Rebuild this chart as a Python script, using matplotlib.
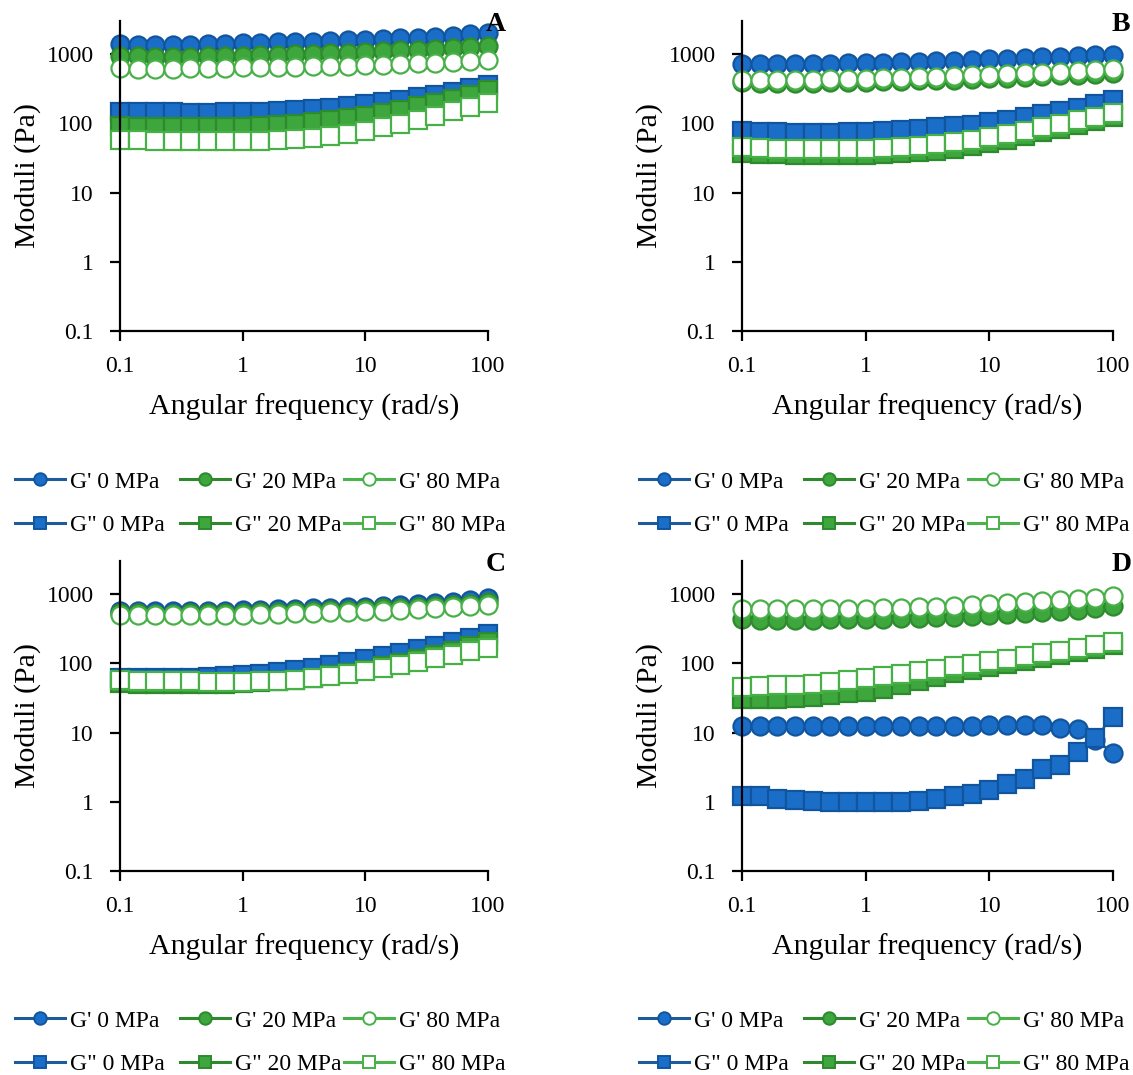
import numpy as np
import matplotlib.pyplot as plt
from matplotlib.lines import Line2D

plt.rcParams['font.family'] = ['Liberation Serif', 'DejaVu Serif']

# Angular frequency, 7 points per decade from 0.1 to 100 rad/s
freq = [0.1, 0.139, 0.193, 0.268, 0.373, 0.518, 0.72, 1.0, 1.39, 1.93, 2.68,
        3.73, 5.18, 7.2, 10.0, 13.9, 19.3, 26.8, 37.3, 51.8, 72.0, 100.0]

labels = ["G' 0 MPa", "G' 20 MPa", "G' 80 MPa",
          'G" 0 MPa', 'G" 20 MPa', 'G" 80 MPa']

# Panel A
a_g1_0 = [1380, 1370, 1360, 1360, 1370, 1380, 1400, 1420, 1440, 1470, 1490,
          1510, 1540, 1570, 1600, 1640, 1680, 1730, 1790, 1850, 1920, 1990]
a_g1_20 = [935, 925, 920, 920, 920, 925, 935, 945, 960, 975, 990,
           1005, 1025, 1045, 1070, 1095, 1125, 1160, 1195, 1235, 1270, 1310]
a_g1_80 = [620, 615, 615, 615, 620, 625, 630, 640, 645, 650, 660,
           665, 672, 680, 690, 700, 715, 730, 750, 770, 795, 820]
a_g2_0 = [147, 146, 145, 144, 143, 143, 144, 145, 147, 150, 154,
          160, 167, 176, 187, 200, 216, 236, 258, 285, 320, 360]
a_g2_20 = [90, 89, 88, 88, 87, 87, 88, 89, 91, 94, 98,
           103, 110, 118, 128, 140, 155, 175, 198, 225, 260, 300]
a_g2_80 = [58, 57, 56, 56, 55, 55, 55, 55, 56, 57, 59,
           62, 66, 71, 78, 87, 98, 112, 128, 148, 170, 195]

# Panel B
b_g1_0 = [720, 715, 712, 712, 715, 720, 730, 740, 750, 760, 775,
          790, 805, 820, 840, 860, 880, 900, 920, 940, 960, 980]
b_g1_20 = [390, 385, 385, 385, 388, 392, 396, 400, 405, 410, 415,
           420, 428, 435, 445, 455, 465, 475, 490, 505, 520, 535]
b_g1_80 = [420, 418, 418, 420, 425, 430, 435, 440, 448, 455, 462,
           470, 480, 490, 500, 512, 525, 540, 555, 570, 585, 600]
b_g2_0 = [77, 75, 74, 73, 73, 73, 74, 75, 77, 80, 83,
          87, 91, 96, 103, 112, 122, 135, 150, 168, 190, 215]
b_g2_20 = [37, 36, 36, 35, 35, 35, 35, 35, 36, 37, 38,
           40, 43, 47, 52, 58, 65, 74, 84, 95, 108, 122]
b_g2_80 = [45, 44, 43, 43, 43, 43, 43, 43, 44, 45, 47,
           50, 54, 58, 63, 70, 78, 87, 98, 110, 125, 142]

# Panel C
c_g1_0 = [575, 570, 568, 568, 570, 573, 578, 585, 592, 600, 610,
          620, 632, 645, 660, 677, 697, 720, 748, 780, 830, 880]
c_g1_20 = [530, 525, 522, 522, 524, 527, 532, 538, 545, 552, 560,
           570, 580, 592, 605, 620, 636, 655, 676, 700, 728, 760]
c_g1_80 = [495, 490, 490, 490, 492, 495, 500, 505, 512, 520, 528,
           536, 545, 555, 565, 578, 592, 608, 625, 645, 668, 695]
c_g2_0 = [61, 61, 61, 62, 62, 63, 65, 67, 70, 74, 79,
          86, 94, 103, 115, 128, 143, 160, 180, 205, 235, 268]
c_g2_20 = [52, 51, 51, 50, 50, 50, 51, 52, 53, 55, 58,
           62, 67, 73, 81, 90, 101, 115, 132, 152, 176, 205]
c_g2_80 = [57, 56, 55, 55, 55, 54, 54, 54, 55, 56, 58,
           61, 65, 70, 77, 85, 94, 105, 118, 132, 148, 165]

# Panel D
d_g1_0 = [12.5, 12.4, 12.4, 12.3, 12.3, 12.3, 12.3, 12.3, 12.3, 12.3, 12.4,
          12.4, 12.5, 12.6, 12.8, 12.9, 13.0, 13.0, 11.8, 11.4, 7.9, 5.1]
d_g1_20 = [430, 428, 427, 427, 428, 430, 432, 435, 440, 445, 452,
           460, 470, 482, 495, 510, 527, 547, 570, 597, 630, 665]
d_g1_80 = [600, 598, 598, 600, 603, 607, 612, 618, 625, 635, 647,
           660, 675, 693, 713, 735, 760, 790, 820, 855, 890, 930]
d_g2_0 = [1.22, 1.2, 1.11, 1.07, 1.03, 1.0, 0.98, 0.98, 0.98, 1.0, 1.03,
          1.1, 1.22, 1.3, 1.48, 1.8, 2.1, 3.0, 3.4, 5.3, 8.4, 17.0]
d_g2_20 = [30, 30, 30, 31, 33, 35, 37, 39, 43, 49, 56,
           64, 72, 81, 89, 99, 109, 118, 130, 145, 163, 183]
d_g2_80 = [46, 47, 48, 49, 51, 54, 58, 62, 66, 71, 77,
           84, 91, 99, 108, 117, 128, 140, 152, 165, 183, 205]

panels = {
    'A': [a_g1_0, a_g1_20, a_g1_80, a_g2_0, a_g2_20, a_g2_80],
    'B': [b_g1_0, b_g1_20, b_g1_80, b_g2_0, b_g2_20, b_g2_80],
    'C': [c_g1_0, c_g1_20, c_g1_80, c_g2_0, c_g2_20, c_g2_80],
    'D': [d_g1_0, d_g1_20, d_g1_80, d_g2_0, d_g2_20, d_g2_80],
}

# (line colour, marker face, marker edge, marker)
styles = [
    ('#1f5b99', '#1a6ec8', '#11559f', 'o'),
    ('#2e882e', '#3da63d', '#2d8a2d', 'o'),
    ('#4cb34c', 'white', '#47b047', 'o'),
    ('#1f5b99', '#1a6ec8', '#11559f', 's'),
    ('#2e882e', '#3da63d', '#2d8a2d', 's'),
    ('#4cb34c', 'white', '#47b047', 's'),
]

W, H = 1133, 1075
fig = plt.figure(figsize=(W / 100, H / 100), dpi=100)

# axes boxes in pixels: left, right, bottom(0.1), top
boxes = {'A': (120, 488, 331, 21), 'B': (742, 1113, 331, 21),
         'C': (120, 488, 871, 561), 'D': (742, 1113, 871, 561)}
legend_pos = {'A': (15, 471), 'B': (639, 471), 'C': (15, 1010), 'D': (639, 1010)}
col_offsets = [0, 165, 329]

for name, series in panels.items():
    l, r, b, t = boxes[name]
    ax = fig.add_axes([l / W, 1 - b / H, (r - l) / W, (b - t) / H])
    for vals, (lc, fc, ec, mk) in zip(series, styles):
        ax.plot(freq, vals, color=lc, lw=1.6, marker=mk, markersize=13,
                markerfacecolor=fc, markeredgecolor=ec, markeredgewidth=1.6,
                clip_on=False)
    ax.set_xscale('log')
    ax.set_yscale('log')
    ax.set_xlim(0.1, 100)
    ax.set_ylim(0.1, 3000)
    ax.set_xticks([0.1, 1, 10, 100])
    ax.set_xticklabels(['0.1', '1', '10', '100'])
    ax.set_yticks([0.1, 1, 10, 100, 1000])
    ax.set_yticklabels(['0.1', '1', '10', '100', '1000'])
    ax.minorticks_off()
    for s in ['top', 'right']:
        ax.spines[s].set_visible(False)
    for s in ['left', 'bottom']:
        ax.spines[s].set_linewidth(1.6)
    ax.tick_params(axis='both', length=7, width=1.6, labelsize=17)
    ax.tick_params(axis='y', pad=12)
    ax.tick_params(axis='x', pad=11)
    ax.set_xlabel('Angular frequency (rad/s)', fontsize=21.5, labelpad=12)
    ax.set_ylabel('Moduli (Pa)', fontsize=21.5, labelpad=4)
    ax.text(1.022, 0.99, name, transform=ax.transAxes, fontsize=20,
            fontweight='bold', ha='center', va='center')

    # one legend per column so the columns sit where the reference has them
    lx, ly = legend_pos[name]
    for c in range(3):
        idx = [c, c + 3]
        hs = [Line2D([], [], color=styles[i][0], lw=2.2, marker=styles[i][3],
                     markersize=9, markerfacecolor=styles[i][1],
                     markeredgecolor=styles[i][2], markeredgewidth=1.4)
              for i in idx]
        fig.legend(hs, [labels[i] for i in idx], loc='upper left',
                   bbox_to_anchor=((lx + col_offsets[c]) / W, 1 - ly / H),
                   frameon=False, fontsize=17, borderpad=0, borderaxespad=0,
                   handlelength=2.12, handletextpad=0.22, labelspacing=0.93)

fig.savefig('out.png', dpi=100)
